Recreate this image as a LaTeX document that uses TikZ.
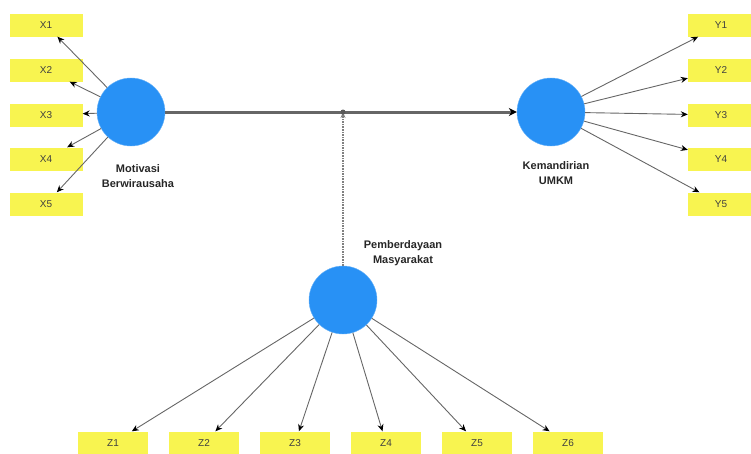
\documentclass[tikz,border=0pt]{standalone}
\usepackage{fontspec}
\setmainfont{Liberation Sans}
\usetikzlibrary{arrows.meta, positioning}
\definecolor{lvblue}{RGB}{40, 145, 245}
\definecolor{indyellow}{RGB}{248, 244, 80}

\begin{document}
\begin{tikzpicture}[
    x=1pt, y=-1pt,
    latent/.style={circle, fill=lvblue, draw=lvblue!70, minimum size=68pt, inner sep=0pt},
    ind/.style={rectangle, fill=indyellow, minimum width=70pt, minimum height=23pt, inner sep=0pt, font=\fontsize{10}{12}\selectfont, text=black!75},
    lvlabel/.style={font=\fontsize{11}{15}\selectfont\bfseries, align=center, text=black!85},
    arrow/.style={-{Stealth[length=7pt, width=6pt, color=black]}, draw=black!60, line width=0.9pt},
    mainpath/.style={-{Stealth[length=8pt, width=8pt, color=black]}, draw=black!60, line width=3pt},
    moder/.style={-{Stealth[length=6pt, width=5pt, open]}, draw=black!50, densely dotted, line width=1.6pt}
]
\useasboundingbox (0,0) rectangle (751,453);

% latent variables
\node[latent] (mot) at (131,112) {};
\node[latent] (kem) at (551,112) {};
\node[latent] (pem) at (343,300) {};

\node[lvlabel] (motlab) at (138,176) {Motivasi\\Berwirausaha};
\node[lvlabel] (kemlab) at (556,173) {Kemandirian\\UMKM};
\node[lvlabel] (pemlab) at (403,253) {Pemberdayaan\\Masyarakat};

% indicators
\foreach \i/\y in {1/25, 2/70, 3/115, 4/159, 5/204}
    \node[ind, minimum width=73pt] (x\i) at (46,\y) {X\i};
\foreach \i/\y in {1/25, 2/70, 3/115, 4/159, 5/204}
    \node[ind, minimum width=66pt] (y\i) at (721,\y) {Y\i};
\foreach \i in {1,...,6}
    \node[ind] (z\i) at ({113+91*(\i-1)},443) {Z\i};

% loadings
\foreach \i in {1,...,5} {
    \draw[arrow] (mot) -- (x\i);
    \draw[arrow] (kem) -- (y\i);
}
\foreach \i in {1,...,6}
    \draw[arrow] (pem) -- (z\i);

% structural path + moderation
\draw[mainpath] (mot) -- (kem);
\coordinate (mid) at (343,112);
\draw[moder] (pem) -- (mid);
\fill[black!65] (mid) circle (2.5pt);

\end{tikzpicture}
\end{document}
